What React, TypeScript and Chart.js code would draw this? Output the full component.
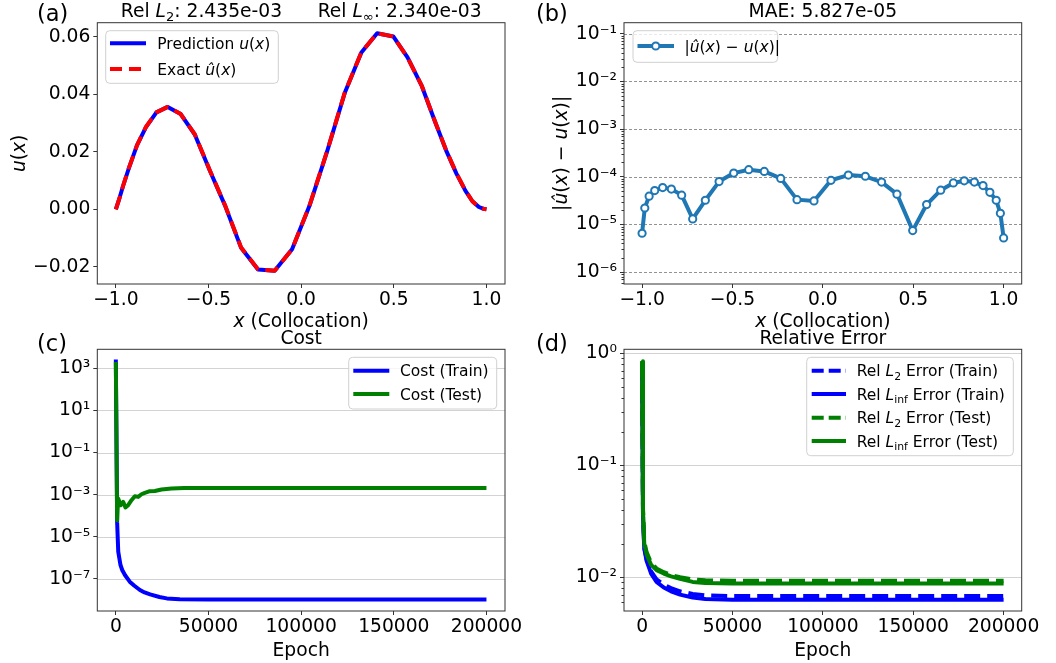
import React, { useEffect, useRef } from 'react';
import { Chart, registerables } from 'chart.js';
Chart.register(...registerables);

// ---------------- data ----------------
const colX = [-1.0, -0.985, -0.961, -0.93, -0.886, -0.838, -0.781, -0.72, -0.65, -0.574, -0.493, -0.41, -0.324, -0.233, -0.143, -0.049, 0.045, 0.141, 0.235, 0.325, 0.41, 0.497, 0.574, 0.652, 0.722, 0.782, 0.838, 0.886, 0.924, 0.959, 0.982, 1.0];
const uPred = [0, 0.0029, 0.0081, 0.0142, 0.0222, 0.0285, 0.0337, 0.0356, 0.0331, 0.026, 0.0135, 0.0012, -0.0134, -0.0209, -0.0214, -0.0139, 0.0012, 0.0203, 0.0404, 0.0545, 0.0612, 0.0601, 0.0528, 0.0427, 0.0305, 0.0205, 0.0124, 0.0065, 0.0028, 0.0008, 0.0002, 0];
const uExact = [0, 0.0029, 0.0081, 0.0143, 0.0222, 0.0286, 0.0337, 0.0356, 0.0331, 0.0261, 0.0136, 0.0013, -0.0133, -0.0208, -0.0214, -0.0139, 0.0013, 0.0204, 0.0405, 0.0546, 0.0612, 0.0601, 0.0528, 0.0428, 0.0306, 0.0206, 0.0125, 0.0066, 0.0028, 0.0008, 0.0002, 0];
const absErr = [6.5e-6, 2.2e-5, 3.9e-5, 5.1e-5, 5.9e-5, 5.5e-5, 4.1e-5, 1.3e-5, 3.2e-5, 7.9e-5, 1.19e-4, 1.4e-4, 1.29e-4, 9.2e-5, 3.3e-5, 3.1e-5, 8.4e-5, 1.08e-4, 1.02e-4, 7.7e-5, 4.3e-5, 7.4e-6, 2.6e-5, 5.2e-5, 7.4e-5, 8.2e-5, 7.7e-5, 6.5e-5, 4.7e-5, 3.2e-5, 1.7e-5, 5.2e-6];

const epochCostTrain = [0, 700, 1300, 2500, 3500, 5000, 7500, 10000, 13000, 15500, 18500, 23500, 27500, 34500, 50000, 100000, 150000, 200000];
const costTrain = [2600, 5e-5, 2e-6, 4.6e-7, 2.6e-7, 1.5e-7, 7.5e-8, 4.8e-8, 3e-8, 2.3e-8, 1.85e-8, 1.4e-8, 1.2e-8, 1.1e-8, 1.05e-8, 1.05e-8, 1.05e-8, 1.05e-8];
const epochCostTest = [0, 700, 1250, 2700, 3950, 5200, 6650, 8450, 10250, 12050, 13850, 15650, 18350, 21050, 24650, 30050, 37000, 50000, 100000, 150000, 200000];
const costTest = [2000, 6.2e-5, 6.6e-4, 3.2e-4, 4.6e-4, 2.5e-4, 3.2e-4, 5.5e-4, 8.5e-4, 7.9e-4, 1.05e-3, 1.22e-3, 1.47e-3, 1.5e-3, 1.77e-3, 1.96e-3, 2.1e-3, 2.1e-3, 2.1e-3, 2.1e-3, 2.1e-3];

const epochErr = [0, 500, 1200, 2500, 5000, 8000, 12000, 16000, 21000, 28000, 35000, 50000, 100000, 150000, 200000];
const relL2Train = [0.8, 0.036, 0.0185, 0.0145, 0.0113, 0.0096, 0.0086, 0.008, 0.0075, 0.0071, 0.0069, 0.0068, 0.0068, 0.0068, 0.0068];
const relLinfTrain = [0.8, 0.035, 0.018, 0.014, 0.0108, 0.0091, 0.0081, 0.0075, 0.007, 0.0066, 0.0064, 0.0063, 0.0063, 0.0063, 0.0063];
const relL2Test = [0.85, 0.042, 0.021, 0.0168, 0.0135, 0.012, 0.0111, 0.0105, 0.01, 0.0096, 0.0094, 0.0093, 0.0093, 0.0093, 0.0093];
const relLinfTest = [0.85, 0.04, 0.02, 0.016, 0.0129, 0.0116, 0.0108, 0.0102, 0.0097, 0.0091, 0.0089, 0.0088, 0.0088, 0.0088, 0.0088];

const xTicksColloc = [-1, -0.5, 0, 0.5, 1];
const yTicksU = [-0.02, 0, 0.02, 0.04, 0.06];
const yTicksErr = [1e-6, 1e-5, 1e-4, 1e-3, 1e-2, 1e-1];
const xTicksEpoch = [0, 50000, 100000, 150000, 200000];
const yTicksCost = [1e-7, 1e-5, 1e-3, 1e-1, 10, 1000];
const yTicksRel = [1e-2, 1e-1, 1];

// ---------------- helpers ----------------
const W = 1056, H = 663;
const FONT = '"DejaVu Sans", sans-serif';
const FS = 18.7;
const LFS = 15.5;
const BLUE = '#0000ff', RED = '#ff0000', GREEN = '#008000', TAB = '#1f77b4';

type Seg = { t: string; i?: boolean; sub?: boolean };
type Row = { y: number; color: string; dash: number[]; marker?: boolean; label: Seg[] };
type Legend = { box: [number, number, number, number]; x0: number; x1: number; tx: number; rows: Row[] };
type Deco = {
  letter: [string, number, number];
  title: Seg[]; titleY: number;
  xLabel: Seg[]; xLabelY: number;
  yLabel?: Seg[]; yLabelX?: number;
  grid?: { values: number[]; color: string; dash: number[] };
  minor?: boolean;
  legend: Legend;
};
type Area = { l: number; r: number; t: number; b: number };

function drawRich(ctx: CanvasRenderingContext2D, segs: Seg[], x: number, y: number, size: number, align: 'left' | 'center', rotate = false) {
  ctx.save();
  ctx.translate(x, y);
  if (rotate) ctx.rotate(-Math.PI / 2);
  const parts = segs.map((s) => {
    const fs = s.sub ? size * 0.7 : size;
    const font = `${s.i ? 'italic ' : ''}${fs}px ${FONT}`;
    ctx.font = font;
    return { t: s.t, font, w: ctx.measureText(s.t).width, dy: s.sub ? size * 0.22 : 0 };
  });
  const total = parts.reduce((a, p) => a + p.w, 0);
  let cx = align === 'center' ? -total / 2 : 0;
  ctx.fillStyle = '#000';
  ctx.textBaseline = 'alphabetic';
  ctx.textAlign = 'left';
  for (const p of parts) {
    ctx.font = p.font;
    ctx.fillText(p.t, cx, p.dy);
    cx += p.w;
  }
  ctx.restore();
}

function makeDeco(d: Deco) {
  return {
    id: 'deco',
    beforeDatasetsDraw(chart: any) {
      if (!d.grid) return;
      const ctx = chart.ctx as CanvasRenderingContext2D;
      const { left, right } = chart.chartArea;
      const ys = chart.scales.y;
      ctx.save();
      ctx.strokeStyle = d.grid.color;
      ctx.lineWidth = 1;
      ctx.setLineDash(d.grid.dash);
      for (const v of d.grid.values) {
        const py = Math.round(ys.getPixelForValue(v)) + 0.5;
        ctx.beginPath();
        ctx.moveTo(left, py);
        ctx.lineTo(right, py);
        ctx.stroke();
      }
      ctx.restore();
    },
    afterDraw(chart: any) {
      const ctx = chart.ctx as CanvasRenderingContext2D;
      const { left, right, top, bottom } = chart.chartArea;
      ctx.save();
      // frame
      ctx.strokeStyle = '#333';
      ctx.lineWidth = 1;
      ctx.setLineDash([]);
      ctx.strokeRect(left, top, right - left, bottom - top);
      // minor ticks on log y
      if (d.minor) {
        const ys = chart.scales.y;
        const lo = Math.floor(Math.log10(ys.min));
        const hi = Math.ceil(Math.log10(ys.max));
        ctx.beginPath();
        for (let e = lo; e <= hi; e++) {
          for (let k = 2; k <= 9; k++) {
            const v = k * Math.pow(10, e);
            if (v < ys.min || v > ys.max) continue;
            const py = Math.round(ys.getPixelForValue(v)) + 0.5;
            ctx.moveTo(left, py);
            ctx.lineTo(left - 2.5, py);
          }
        }
        ctx.stroke();
      }
      ctx.restore();

      // texts
      const cxm = (left + right) / 2;
      const cym = (top + bottom) / 2;
      drawRich(ctx, [{ t: d.letter[0] }], d.letter[1], d.letter[2], 22.5, 'left');
      drawRich(ctx, d.title, cxm, d.titleY, FS, 'center');
      drawRich(ctx, d.xLabel, cxm, d.xLabelY, FS, 'center');
      if (d.yLabel && d.yLabelX !== undefined) drawRich(ctx, d.yLabel, d.yLabelX, cym, FS, 'center', true);

      // legend
      const L = d.legend;
      ctx.save();
      const [bx0, by0, bx1, by1] = L.box;
      const rr = 4;
      ctx.beginPath();
      ctx.moveTo(bx0 + rr, by0);
      ctx.lineTo(bx1 - rr, by0);
      ctx.quadraticCurveTo(bx1, by0, bx1, by0 + rr);
      ctx.lineTo(bx1, by1 - rr);
      ctx.quadraticCurveTo(bx1, by1, bx1 - rr, by1);
      ctx.lineTo(bx0 + rr, by1);
      ctx.quadraticCurveTo(bx0, by1, bx0, by1 - rr);
      ctx.lineTo(bx0, by0 + rr);
      ctx.quadraticCurveTo(bx0, by0, bx0 + rr, by0);
      ctx.closePath();
      ctx.fillStyle = 'rgba(255,255,255,0.8)';
      ctx.fill();
      ctx.strokeStyle = '#d0d0d0';
      ctx.lineWidth = 1;
      ctx.stroke();
      for (const r of L.rows) {
        ctx.beginPath();
        ctx.setLineDash(r.dash);
        ctx.lineCap = 'butt';
        ctx.strokeStyle = r.color;
        ctx.lineWidth = 4;
        ctx.moveTo(L.x0, r.y);
        ctx.lineTo(L.x1, r.y);
        ctx.stroke();
        ctx.setLineDash([]);
        if (r.marker) {
          ctx.beginPath();
          ctx.arc((L.x0 + L.x1) / 2, r.y, 3.6, 0, Math.PI * 2);
          ctx.fillStyle = '#fff';
          ctx.fill();
          ctx.lineWidth = 2;
          ctx.strokeStyle = r.color;
          ctx.stroke();
        }
        drawRich(ctx, r.label, L.tx, r.y + LFS * 0.36, LFS, 'left');
      }
      ctx.restore();
    },
  };
}

const fmtMinus = (s: string) => s.replace('-', '\u2212');
const fmtFixed = (n: number) => (v: number) => fmtMinus((Math.abs(v) < 1e-12 ? 0 : v).toFixed(n));
const SUP: Record<string, string> = { '-': '\u207b', '0': '\u2070', '1': '\u00b9', '2': '\u00b2', '3': '\u00b3', '4': '\u2074', '5': '\u2075', '6': '\u2076', '7': '\u2077', '8': '\u2078', '9': '\u2079' };
const fmtPow = (v: number) => '10' + String(Math.round(Math.log10(v))).split('').map((c) => SUP[c]).join('');
const fmtInt = (v: number) => String(Math.round(v));

function axis(type: string, min: number, max: number, ticks: number[], fmt: (v: number) => string, isX: boolean, size: number) {
  return {
    type,
    min,
    max,
    afterBuildTicks: (s: any) => {
      s.ticks = ticks.map((v) => ({ value: v }));
    },
    afterFit: (s: any) => {
      if (isX) s.height = size;
      else s.width = size;
    },
    ticks: {
      callback: (v: any) => fmt(Number(v)),
      font: { family: FONT, size: FS },
      color: '#000',
      padding: isX ? 1 : 3,
      maxRotation: 0,
      minRotation: 0,
      autoSkip: false,
    },
    grid: { display: true, drawOnChartArea: false, drawTicks: true, tickLength: 4, tickColor: '#333', tickWidth: 1 },
    border: { display: false },
  };
}

const XAX_H = 40;
function baseOptions(area: Area, x: any, y: any) {
  return {
    animation: false,
    responsive: false,
    maintainAspectRatio: false,
    devicePixelRatio: 1,
    layout: { padding: { left: 0, top: area.t, right: W - area.r, bottom: H - area.b - XAX_H } },
    plugins: { legend: { display: false }, tooltip: { enabled: false }, title: { display: false } },
    scales: { x, y },
  };
}

const pts = (xs: number[], ys: number[]) => xs.map((x, i) => ({ x, y: ys[i] }));
const lineDs = (data: any[], color: string, dash: number[], order: number, extra: any = {}) => ({
  data,
  borderColor: color,
  backgroundColor: color,
  borderWidth: 4,
  borderDash: dash,
  borderJoinStyle: 'round',
  pointRadius: 0,
  fill: false,
  tension: 0,
  order,
  ...extra,
});

const AREA_A: Area = { l: 97.3, r: 505, t: 22.7, b: 284 };
const AREA_B: Area = { l: 624, r: 1021.7, t: 22.7, b: 284 };
const AREA_C: Area = { l: 97.3, r: 505, t: 349.3, b: 611 };
const AREA_D: Area = { l: 624, r: 1021.7, t: 349.3, b: 611 };

const uxLabel = (pre: string, hat: boolean): Seg[] => [{ t: pre }, { t: hat ? '\u00fb' : 'u', i: true }, { t: '(' }, { t: 'x', i: true }, { t: ')' }];
const absLabel: Seg[] = [{ t: '|' }, { t: '\u00fb', i: true }, { t: '(' }, { t: 'x', i: true }, { t: ') \u2212 ' }, { t: 'u', i: true }, { t: '(' }, { t: 'x', i: true }, { t: ')|' }];
const collocLabel: Seg[] = [{ t: 'x', i: true }, { t: ' (Collocation)' }];
const relLabel = (sub: string, rest: string): Seg[] => [{ t: 'Rel ' }, { t: 'L', i: true }, { t: sub, sub: true }, { t: rest }];

function configs() {
  const a = {
    type: 'line',
    data: {
      datasets: [
        lineDs(pts(colX, uExact), RED, [14, 7], 0),
        lineDs(pts(colX, uPred), BLUE, [], 1),
      ],
    },
    options: baseOptions(
      AREA_A,
      axis('linear', -1.1, 1.1, xTicksColloc, fmtFixed(1), true, XAX_H),
      axis('linear', -0.02597, 0.06487, yTicksU, fmtFixed(2), false, AREA_A.l)
    ),
    deco: {
      letter: ['(a)', 37, 20.5],
      title: [{ t: 'Rel ' }, { t: 'L', i: true }, { t: '2', sub: true }, { t: ': 2.435e-03      Rel ' }, { t: 'L', i: true }, { t: '\u221e', sub: true }, { t: ': 2.340e-03' }],
      titleY: 16.7,
      xLabel: collocLabel,
      xLabelY: 327,
      yLabel: [{ t: 'u', i: true }, { t: '(' }, { t: 'x', i: true }, { t: ')' }],
      yLabelX: 25.3,
      legend: {
        box: [105.7, 30.7, 278.3, 83.3],
        x0: 110,
        x1: 146,
        tx: 157.3,
        rows: [
          { y: 43.3, color: BLUE, dash: [], label: uxLabel('Prediction ', false) },
          { y: 69, color: RED, dash: [12, 7], label: uxLabel('Exact ', true) },
        ],
      },
    } as Deco,
  };

  const b = {
    type: 'line',
    data: {
      datasets: [
        lineDs(pts(colX, absErr), TAB, [], 0, {
          pointRadius: 3.6,
          pointBorderWidth: 2,
          pointBackgroundColor: '#fff',
          pointBorderColor: TAB,
          borderWidth: 4,
        }),
      ],
    },
    options: baseOptions(
      AREA_B,
      axis('linear', -1.1, 1.1, xTicksColloc, fmtFixed(1), true, XAX_H),
      axis('logarithmic', Math.pow(10, -6.2517), Math.pow(10, -0.7693), yTicksErr, fmtPow, false, AREA_B.l)
    ),
    deco: {
      letter: ['(b)', 536, 20.5],
      title: [{ t: 'MAE: 5.827e-05' }],
      titleY: 16.7,
      xLabel: collocLabel,
      xLabelY: 327,
      yLabel: absLabel,
      yLabelX: 567,
      grid: { values: yTicksErr, color: 'rgba(120,120,120,0.8)', dash: [3, 2] },
      minor: true,
      legend: {
        box: [633, 30.7, 777.7, 62.3],
        x0: 637.5,
        x1: 674,
        tx: 684.5,
        rows: [{ y: 46, color: TAB, dash: [], marker: true, label: absLabel }],
      },
    } as Deco,
  };

  const c = {
    type: 'line',
    data: {
      datasets: [
        lineDs(pts(epochCostTest, costTest), GREEN, [], 0),
        lineDs(pts(epochCostTrain, costTrain), BLUE, [], 1),
      ],
    },
    options: baseOptions(
      AREA_C,
      axis('linear', -10000, 210000, xTicksEpoch, fmtInt, true, XAX_H),
      axis('logarithmic', Math.pow(10, -8.5188), Math.pow(10, 3.9018), yTicksCost, fmtPow, false, AREA_C.l)
    ),
    deco: {
      letter: ['(c)', 37, 350.7],
      title: [{ t: 'Cost' }],
      titleY: 344.3,
      xLabel: [{ t: 'Epoch' }],
      xLabelY: 656,
      grid: { values: yTicksCost, color: '#d3d3d3', dash: [] },
      legend: {
        box: [348.7, 357.3, 496.7, 409],
        x0: 353.3,
        x1: 389.3,
        tx: 400,
        rows: [
          { y: 370.7, color: BLUE, dash: [], label: [{ t: 'Cost (Train)' }] },
          { y: 394, color: GREEN, dash: [], label: [{ t: 'Cost (Test)' }] },
        ],
      },
    } as Deco,
  };

  const d = {
    type: 'line',
    data: {
      datasets: [
        lineDs(pts(epochErr, relLinfTest), GREEN, [], 0),
        lineDs(pts(epochErr, relL2Test), GREEN, [16, 7], 1),
        lineDs(pts(epochErr, relLinfTrain), BLUE, [], 2),
        lineDs(pts(epochErr, relL2Train), BLUE, [16, 7], 3),
      ],
    },
    options: baseOptions(
      AREA_D,
      axis('linear', -10000, 210000, xTicksEpoch, fmtInt, true, XAX_H),
      axis('logarithmic', Math.pow(10, -2.3009), Math.pow(10, 0.0357), yTicksRel, fmtPow, false, AREA_D.l)
    ),
    deco: {
      letter: ['(d)', 536, 350.7],
      title: [{ t: 'Relative Error' }],
      titleY: 344.3,
      xLabel: [{ t: 'Epoch' }],
      xLabelY: 656,
      grid: { values: yTicksRel, color: '#d3d3d3', dash: [] },
      minor: true,
      legend: {
        box: [806.7, 357.3, 1013.3, 455.7],
        x0: 811.7,
        x1: 846,
        tx: 856.7,
        rows: [
          { y: 370.7, color: BLUE, dash: [12, 5], label: relLabel('2', ' Error (Train)') },
          { y: 394, color: BLUE, dash: [], label: relLabel('inf', ' Error (Train)') },
          { y: 417.7, color: GREEN, dash: [12, 5], label: relLabel('2', ' Error (Test)') },
          { y: 441, color: GREEN, dash: [], label: relLabel('inf', ' Error (Test)') },
        ],
      },
    } as Deco,
  };
  return [a, b, c, d];
}

export default function App() {
  const refs = [useRef<HTMLCanvasElement>(null), useRef<HTMLCanvasElement>(null), useRef<HTMLCanvasElement>(null), useRef<HTMLCanvasElement>(null)];
  useEffect(() => {
    const cfgs = configs();
    const charts = cfgs.map((cfg, i) => {
      const el = refs[i].current!;
      return new Chart(el, {
        type: cfg.type as any,
        data: cfg.data as any,
        options: cfg.options as any,
        plugins: [makeDeco(cfg.deco)],
      });
    });
    return () => charts.forEach((ch) => ch.destroy());
  }, []);
  return (
    <div style={{ position: 'fixed', left: 0, top: 0, width: W, height: H, background: '#fff' }}>
      {refs.map((r, i) => (
        <canvas key={i} ref={r} width={W} height={H} style={{ position: 'absolute', left: 0, top: 0, width: W, height: H }} />
      ))}
    </div>
  );
}
